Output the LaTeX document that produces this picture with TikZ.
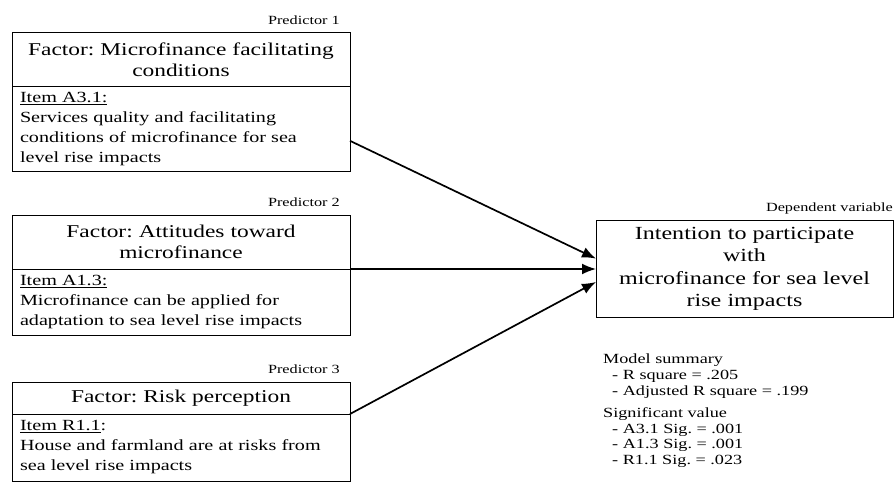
\documentclass[tikz,border=0pt]{standalone}
\usepackage{fontspec}
\setmainfont{Liberation Serif}[FakeStretch=1.3]
\usetikzlibrary{positioning,arrows.meta}

\begin{document}
\frenchspacing
\begin{tikzpicture}[x=1pt, y=-1pt]
    \tikzset{box/.style={
        draw, line width=1pt, outer sep=0pt, inner xsep=8pt, inner ysep=2pt
      },
      factor/.style={box, minimum width=338pt, text width=322pt, align=center,
        font=\fontsize{18}{21}\selectfont},
      item/.style={box, minimum width=338pt, text width=322pt, align=left,
        font=\fontsize{15.5}{20}\selectfont},
      dependent/.style={box, minimum width=297pt, text width=281pt, minimum height=97pt,
        align=center, font=\fontsize{18.5}{22.5}\selectfont},
      tag/.style={inner sep=0pt, font=\fontsize{12.5}{14}\selectfont},
      link/.style={-{Latex[length=14pt, width=11pt]}, line width=1.7pt}
    }

    \useasboundingbox (0,0) rectangle (895,487);

    \node[factor, minimum height=54pt, anchor=north west] (F1) at (12,33)
      {Factor: Microfinance facilitating\\ conditions};
    \node[item, minimum height=84pt, below=0pt of F1] (I1)
      {\underline{Item A3.1:}\\ Services quality and facilitating\\ conditions of microfinance for sea\\ level rise impacts};

    \node[factor, minimum height=54pt, below=44pt of I1] (F2)
      {Factor: Attitudes toward\\ microfinance};
    \node[item, minimum height=66pt, below=0pt of F2] (I2)
      {\underline{Item A1.3:}\\ Microfinance can be applied for\\ adaptation to sea level rise impacts};

    \node[factor, minimum height=32pt, below=47pt of I2] (F3)
      {Factor: Risk perception};
    \node[item, minimum height=67pt, below=0pt of F3] (I3)
      {\underline{Item R1.1}:\\ House and farmland are at risks from\\ sea level rise impacts};

    \node[dependent, right=246pt of I2.north east] (DV)
      {Intention to participate\\ with\\ microfinance for sea level\\ rise impacts};

    \node[tag, above left=8pt and 10pt of F1.north east] {Predictor 1};
    \node[tag, above left=8pt and 10pt of F2.north east] {Predictor 2};
    \node[tag, above left=8pt and 10pt of F3.north east] {Predictor 3};
    \node[tag, above left=6pt and 0pt of DV.north east] {Dependent variable};

    \node[align=left, inner sep=0pt, anchor=north west, font=\fontsize{14}{15.8}\selectfont] (stats) at (603,354)
      {Model summary\\ \hspace*{9pt}- R square = .205\\ \hspace*{9pt}- Adjusted R square = .199\\[6pt]
       Significant value\\ \hspace*{9pt}- A3.1 Sig. = .001\\ \hspace*{9pt}- A1.3 Sig. = .001\\ \hspace*{9pt}- R1.1 Sig. = .023};

    \draw[link] (I1.-4) -- (DV.176);
    \draw[link] (I2.north east) -- (DV.west);
    \draw[link] (I3.north east) -- (DV.185);
  \end{tikzpicture}
\end{document}
